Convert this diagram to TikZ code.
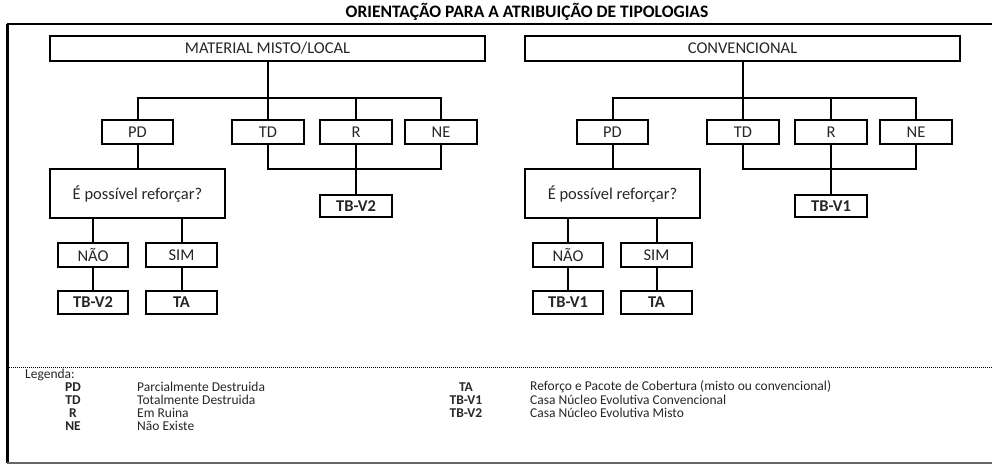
\documentclass[tikz,border=0pt]{standalone}
\usepackage{fontspec}
\setmainfont{Carlito}
\definecolor{txt}{HTML}{262626}
\begin{document}
\begin{tikzpicture}[x=1pt,y=-1pt,
  box/.style={draw=black, line width=2pt, inner sep=0pt, text=txt, font=\fontsize{16.5}{18}\selectfont},
  bbox/.style={box, font=\bfseries\fontsize{16.5}{18}\selectfont},
  conn/.style={draw=black, line width=2pt},
  legab/.style={font=\bfseries\fontsize{13.5}{14}\selectfont, text=txt, inner sep=0pt},
  legtx/.style={font=\fontsize{13.5}{14}\selectfont, text=txt, inner sep=0pt, anchor=west}]
\useasboundingbox (0,0) rectangle (992,466);
% title and frame
\node[font=\bfseries\fontsize{17.5}{19}\selectfont, inner sep=0pt] (title) at (527,12) {ORIENTAÇÃO PARA A ATRIBUIÇÃO DE TIPOLOGIAS};
\coordinate (ftl) at (7,24);
\coordinate (ftr) at (992,24);
\coordinate (fbl) at (7,463);
\coordinate (fbr) at (992,463);
\draw[line width=1.5pt] (ftl) -- (ftr);
\draw[line width=3pt] (ftl) -- (fbl);
\draw[line width=2pt, black!60] (fbl) -- (fbr);
\coordinate (dl) at (7,367);
\coordinate (dr) at (992,367);
\draw[line width=0.9pt, dash pattern=on 1pt off 1pt] (dl) -- (dr);
% trees
\foreach \dx/\top/\res/\nres in {0/MATERIAL MISTO\slash LOCAL/TB-V2/L, 475/CONVENCIONAL/TB-V1/R}{
\begin{scope}[xshift=\dx pt]
\node[box, minimum width=435pt, minimum height=25pt] (top\nres) at (267.5,48.5) {\top};
\node[box, minimum width=71pt, minimum height=24pt] (pd\nres) at (137.5,132) {PD};
\node[box, minimum width=72pt, minimum height=24pt] (td\nres) at (268,132) {TD};
\node[box, minimum width=72pt, minimum height=24pt] (r\nres) at (356,132) {R};
\node[box, minimum width=72pt, minimum height=24pt] (ne\nres) at (441,132) {NE};
\node[box, minimum width=175pt, minimum height=49pt] (q\nres) at (137.5,193.5) {É possível reforçar?};
\node[bbox, minimum width=72pt, minimum height=22pt] (tb\nres) at (356,206) {\res};
\node[box, minimum width=70pt, minimum height=24pt] (nao\nres) at (93,255) {NÃO};
\node[box, minimum width=71pt, minimum height=24pt] (sim\nres) at (181.5,255) {SIM};
\node[bbox, minimum width=70pt, minimum height=23pt] (tbn\nres) at (93,302.5) {\res};
\node[bbox, minimum width=71pt, minimum height=23pt] (ta\nres) at (181.5,302.5) {TA};
\coordinate (bara\nres) at (0,98);
\coordinate (barb\nres) at (0,169);
\draw[conn] (top\nres.south) -- (top\nres.south |- bara\nres);
\draw[conn] (pd\nres.north) -- (pd\nres.north |- bara\nres) -- (ne\nres.north |- bara\nres) -- (ne\nres.north);
\draw[conn] (td\nres.north) -- (td\nres.north |- bara\nres);
\draw[conn] (r\nres.north) -- (r\nres.north |- bara\nres);
\draw[conn] (pd\nres.south) -- (q\nres.north);
\draw[conn] (td\nres.south) -- (td\nres.south |- barb\nres) -- (ne\nres.south |- barb\nres) -- (ne\nres.south);
\draw[conn] (r\nres.south) -- (tb\nres.north);
\draw[conn] (nao\nres.north) -- (nao\nres.north |- q\nres.south);
\draw[conn] (sim\nres.north) -- (sim\nres.north |- q\nres.south);
\draw[conn] (nao\nres.south) -- (tbn\nres.north);
\draw[conn] (sim\nres.south) -- (ta\nres.north);
\end{scope}}
% legend
\node[legtx] (leg) at (25,375) {Legenda:};
\node[legab] (lpd) at (73,387) {PD};
\node[legab] (ltd) at (73,400) {TD};
\node[legab] (lr) at (73,413) {R};
\node[legab] (lne) at (73,426) {NE};
\node[legtx] (dpd) at (137,387) {Parcialmente Destruida};
\node[legtx] (dtd) at (137,400) {Totalmente Destruida};
\node[legtx] (dr) at (137,413) {Em Ruina};
\node[legtx] (dne) at (137,426) {Não Existe};
\node[legab] (lta) at (466,387) {TA};
\node[legab] (lv1) at (466,400) {TB-V1};
\node[legab] (lv2) at (466,413) {TB-V2};
\node[legtx] (dta) at (530,387) {Reforço e Pacote de Cobertura (misto ou convencional)};
\node[legtx] (dv1) at (530,400) {Casa Núcleo Evolutiva Convencional};
\node[legtx] (dv2) at (530,413) {Casa Núcleo Evolutiva Misto};
\end{tikzpicture}
\end{document}
